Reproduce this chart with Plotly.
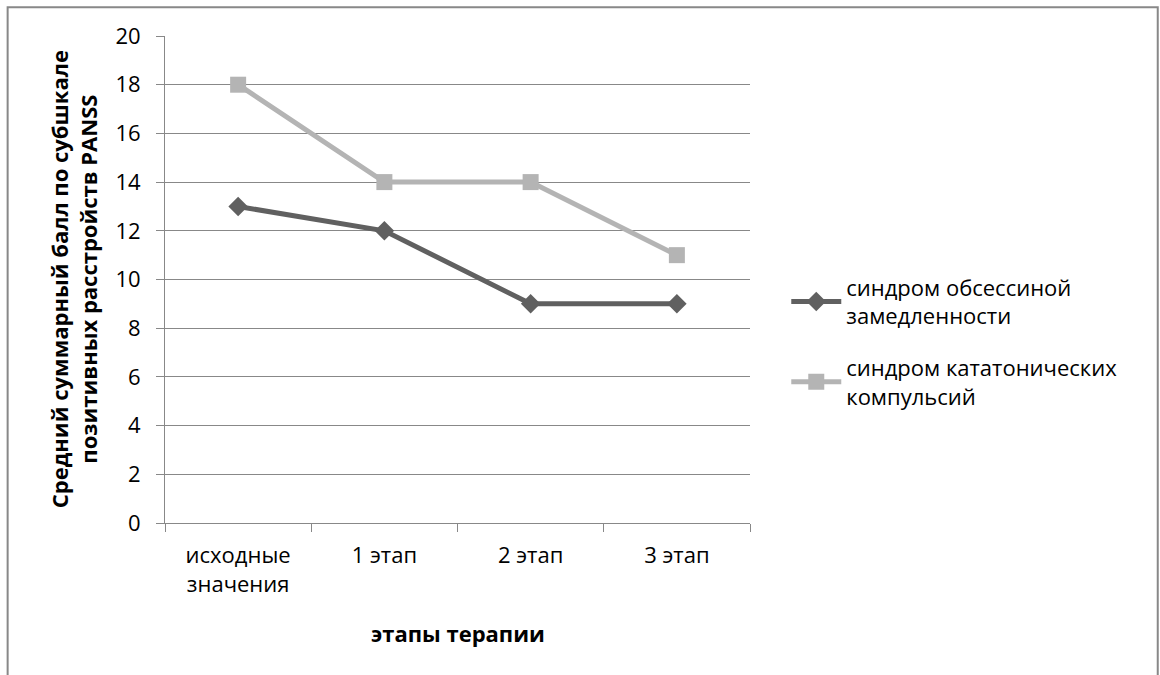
import plotly.graph_objects as go

categories = ["исходные<br>значения", "1 этап", "2 этап", "3 этап"]
series_names = ["синдром обсессиной<br>замедленности", "синдром кататонических<br>компульсий"]
obsessive = [13, 12, 9, 9]
catatonic = [18, 14, 14, 11]
y_ticks = [0, 2, 4, 6, 8, 10, 12, 14, 16, 18, 20]

FONT = "Open Sans"
FS = 22
fig = go.Figure()
fig.add_trace(go.Scatter(
    x=categories, y=obsessive, name=series_names[0], mode="lines+markers",
    line=dict(color="#606060", width=5),
    marker=dict(symbol="diamond", size=15, color="#606060"),
    legendgroup="a"))
fig.add_trace(go.Scatter(
    x=categories, y=catatonic, name=series_names[1], mode="lines+markers",
    line=dict(color="#b4b4b4", width=5),
    marker=dict(symbol="square", size=16, color="#b4b4b4"),
    legendgroup="b"))

fig.update_layout(
    width=1160, height=675,
    margin=dict(l=165, r=410, t=36, b=152),
    paper_bgcolor="white", plot_bgcolor="white",
    font=dict(family=FONT, size=FS, color="#000000"),
    showlegend=True,
    legend=dict(x=1.062, y=0.527, xanchor="left", yanchor="top",
                font=dict(size=FS), tracegroupgap=20, traceorder="grouped",
                itemwidth=50),
    xaxis=dict(type="category", range=[-0.5, 3.5], tickson="boundaries",
               ticks="outside", ticklen=8, tickcolor="#888888",
               showline=True, linecolor="#888888", linewidth=1,
               showgrid=False, tickfont=dict(size=FS), ticklabelstandoff=13),
    yaxis=dict(range=[0, 20], tickvals=y_ticks, ticks="outside", ticklen=8,
               tickcolor="#888888", showline=True, linecolor="#888888",
               linewidth=1, showgrid=True, gridcolor="#888888", gridwidth=1,
               tickfont=dict(size=FS), zeroline=False, ticklabelstandoff=11),
    shapes=[dict(type="rect", xref="paper", yref="paper",
                 x0=-0.269, x1=1.697, y0=-0.33, y1=1.059,
                 line=dict(color="#888888", width=2), layer="below")],
    annotations=[
        dict(text="<b>Средний суммарный балл по субшкале<br>позитивных расстройств PANSS</b>",
             xref="paper", yref="paper", x=-0.156, y=0.5, textangle=-90,
             xanchor="center", yanchor="middle",
             showarrow=False, font=dict(size=22)),
        dict(text="<b>этапы терапии</b>", xref="paper", yref="paper",
             x=0.5, y=-0.226, xanchor="center", yanchor="middle",
             showarrow=False, font=dict(size=FS)),
    ],
)

fig.write_html("out.html")
